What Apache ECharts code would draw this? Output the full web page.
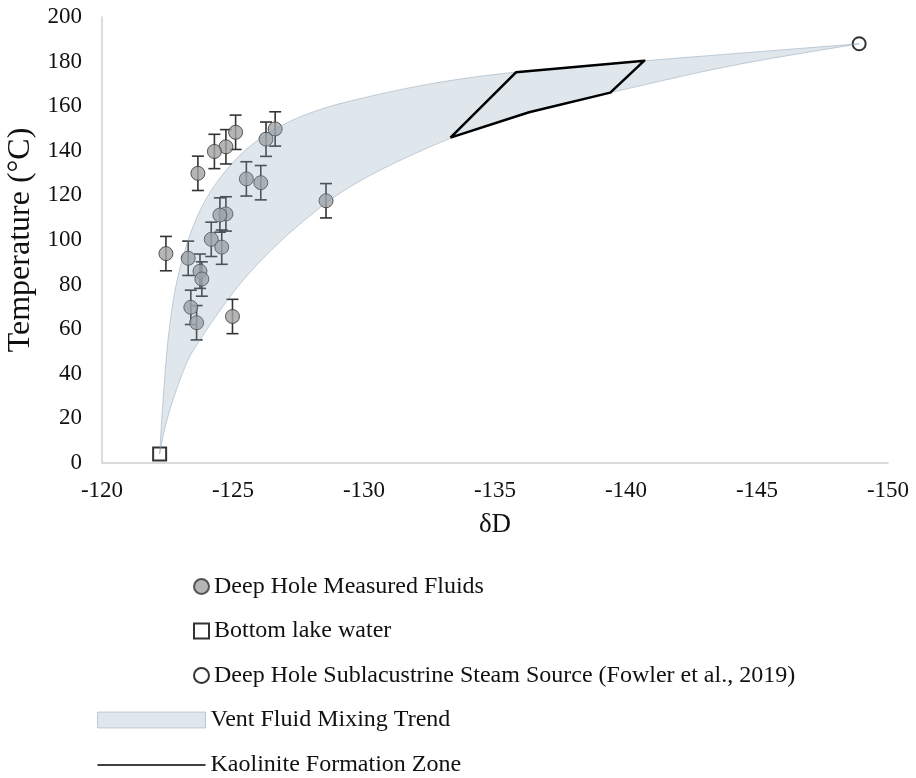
<!DOCTYPE html>
<html>
<head>
<meta charset="utf-8">
<script src="https://cdn.jsdelivr.net/npm/echarts@6/dist/echarts.min.js"></script>
<style>
  html, body { margin: 0; padding: 0; background: #ffffff; }
  #chart { width: 916px; height: 778px; }
</style>
</head>
<body>
<div id="chart"></div>
<script>
// Deep Hole measured vent fluids: δD (‰) and temperature (°C)
const fluidD = [-125.1, -124.73, -124.29, -123.66, -126.61, -126.26, -125.51, -126.06, -128.55, -124.73,
                -124.5, -124.17, -124.57, -122.44, -123.29, -123.74, -123.81, -123.39, -123.61, -124.98];
const fluidT = [148.3, 141.8, 139.7, 129.9, 149.8, 145.2, 127.4, 125.7, 117.6, 111.7,
                111.2, 100.3, 96.8, 93.9, 91.8, 86.0, 82.5, 69.8, 62.9, 65.7];
const fluidErr = 7.7;

// End members
const lakeD = [-122.2];
const lakeT = [4];
const steamD = [-148.9];
const steamT = [188];

// Vent fluid mixing trend envelope (upper and lower bounding curves)
const upperD = [-122.2, -122.33, -122.52, -122.79, -123.17, -123.66, -124.31, -125.27, -126.41, -127.75,
                -129.47, -132.52, -135.8, -140.65, -145.88, -148.9];
const upperT = [4, 28.3, 55.2, 77.6, 95.5, 111.2, 124.7, 138.1, 148.4, 156.1,
                162.3, 170.0, 175.3, 180.3, 185.2, 188];
const lowerD = [-122.2, -122.48, -123.09, -123.74, -125.46, -127.56, -129.85, -133.32, -136.34, -139.35,
                -143.97, -148.9];
const lowerT = [4, 19.3, 40.8, 55.2, 83.0, 107.2, 126.5, 145.7, 157.4, 165.9,
                178.0, 188];

// Kaolinite formation zone outline
const kaolD = [-133.3, -135.8, -140.7, -139.4, -136.3, -133.3];
const kaolT = [145.9, 175.2, 180.4, 166.1, 157.3, 145.9];

// Axis ticks
const xTicks = { min: -150, max: -120, step: 5 };
const yTicks = { min: 0, max: 200, step: 20 };

const FONT = '"Liberation Serif", "Times New Roman", serif';
const chart = echarts.init(document.getElementById('chart'), null, { renderer: 'canvas' });

const bandFill = 'rgba(140,165,185,0.28)';
const bandEdge = 'rgba(130,155,178,0.45)';

// Catmull-Rom spline through pixel points, emitted as cubic Bézier segments
function splineSegments(pts) {
  let d = '';
  for (let i = 0; i < pts.length - 1; i++) {
    const p0 = pts[Math.max(i - 1, 0)];
    const p1 = pts[i];
    const p2 = pts[i + 1];
    const p3 = pts[Math.min(i + 2, pts.length - 1)];
    const c1x = p1[0] + (p2[0] - p0[0]) / 6, c1y = p1[1] + (p2[1] - p0[1]) / 6;
    const c2x = p2[0] - (p3[0] - p1[0]) / 6, c2y = p2[1] - (p3[1] - p1[1]) / 6;
    d += ' C' + c1x + ',' + c1y + ' ' + c2x + ',' + c2y + ' ' + p2[0] + ',' + p2[1];
  }
  return d;
}

const option = {
  backgroundColor: '#ffffff',
  animation: false,
  grid: { left: 102, right: 28, top: 17, bottom: 315, containLabel: false, outerBoundsMode: 'none' },
  xAxis: {
    type: 'value',
    inverse: true,
    min: xTicks.min, max: xTicks.max, interval: xTicks.step,
    name: 'δD',
    nameLocation: 'middle',
    nameGap: 48,
    nameTextStyle: { fontFamily: FONT, fontSize: 27, color: '#111' },
    axisLine: { show: true, lineStyle: { color: '#d0d0d0', width: 1.5 } },
    axisTick: { show: false },
    splitLine: { show: false },
    axisLabel: { fontFamily: FONT, fontSize: 23, color: '#111', margin: 16 }
  },
  yAxis: {
    type: 'value',
    min: yTicks.min, max: yTicks.max, interval: yTicks.step,
    name: 'Temperature (°C)',
    nameLocation: 'middle',
    nameGap: 60,
    nameTextStyle: { fontFamily: FONT, fontSize: 32, color: '#111' },
    axisLine: { show: true, lineStyle: { color: '#d0d0d0', width: 1.5 } },
    axisTick: { show: false },
    splitLine: { show: false },
    axisLabel: { fontFamily: FONT, fontSize: 23, color: '#111', margin: 20 }
  },
  legend: [
    {
      orient: 'vertical',
      left: 193, top: 574.5,
      padding: 0,
      itemWidth: 15, itemHeight: 15,
      itemGap: 20.5,
      textStyle: { fontFamily: FONT, fontSize: 24, color: '#111', lineHeight: 24 },
      data: ['Deep Hole Measured Fluids', 'Bottom lake water',
             'Deep Hole Sublacustrine Steam Source (Fowler et al., 2019)']
    },
    {
      orient: 'vertical',
      left: 97, top: 708,
      padding: 0,
      itemWidth: 108, itemHeight: 16,
      itemGap: 21,
      symbolKeepAspect: true,
      textStyle: { fontFamily: FONT, fontSize: 24, color: '#111', lineHeight: 24 },
      data: [
        { name: 'Vent Fluid Mixing Trend', icon: 'rect',
          itemStyle: { color: bandFill, borderColor: bandEdge, borderWidth: 1 } },
        { name: 'Kaolinite Formation Zone', icon: 'path://M0,0L216,0L216,3L0,3Z',
          itemStyle: { color: '#000000', borderWidth: 0 } }
      ]
    }
  ],
  series: [
    {
      // vertical error bars with caps
      type: 'custom',
      name: 'err',
      z: 2,
      data: fluidD.map((d, i) => [d, fluidT[i] - fluidErr, fluidT[i] + fluidErr]),
      encode: { x: 0, y: [1, 2] },
      renderItem: function (params, api) {
        const lo = api.coord([api.value(0), api.value(1)]);
        const hi = api.coord([api.value(0), api.value(2)]);
        const hw = 6;
        const style = { stroke: '#333333', lineWidth: 1.6, fill: null };
        return {
          type: 'group',
          children: [
            { type: 'line', shape: { x1: lo[0], y1: lo[1], x2: hi[0], y2: hi[1] }, style: style },
            { type: 'line', shape: { x1: lo[0] - hw, y1: lo[1], x2: lo[0] + hw, y2: lo[1] }, style: style },
            { type: 'line', shape: { x1: hi[0] - hw, y1: hi[1], x2: hi[0] + hw, y2: hi[1] }, style: style }
          ]
        };
      },
      silent: true
    },
    {
      type: 'scatter',
      name: 'Deep Hole Measured Fluids',
      z: 3,
      symbol: 'circle',
      symbolSize: 14,
      itemStyle: { color: '#a3a3a3', borderColor: '#333333', borderWidth: 1 },
      data: fluidD.map((d, i) => [d, fluidT[i]])
    },
    {
      type: 'scatter',
      name: 'Bottom lake water',
      z: 3,
      symbol: 'rect',
      symbolSize: 13,
      itemStyle: { color: '#ffffff', borderColor: '#000000', borderWidth: 2 },
      data: lakeD.map((d, i) => [d, lakeT[i]])
    },
    {
      type: 'scatter',
      name: 'Deep Hole Sublacustrine Steam Source (Fowler et al., 2019)',
      z: 3,
      symbol: 'circle',
      symbolSize: 13,
      itemStyle: { color: '#ffffff', borderColor: '#000000', borderWidth: 2 },
      data: steamD.map((d, i) => [d, steamT[i]])
    },
    {
      // translucent mixing envelope laid over the samples
      type: 'custom',
      name: 'Vent Fluid Mixing Trend',
      z: 4,
      silent: true,
      itemStyle: { color: bandFill },
      data: [[-135, 100]],
      renderItem: function (params, api) {
        const up = upperD.map((d, i) => api.coord([d, upperT[i]]));
        const lo = lowerD.map((d, i) => api.coord([d, lowerT[i]])).reverse();
        const path = 'M' + up[0][0] + ',' + up[0][1] + splineSegments(up) + splineSegments(lo) + ' Z';
        return {
          type: 'path',
          shape: { pathData: path },
          style: { fill: bandFill, stroke: bandEdge, lineWidth: 1 }
        };
      }
    },
    {
      type: 'line',
      name: 'Kaolinite Formation Zone',
      z: 5,
      symbol: 'none',
      showSymbol: false,
      smooth: false,
      color: '#000000',
      lineStyle: { color: '#000000', width: 2.5, join: 'round' },
      data: kaolD.map((d, i) => [d, kaolT[i]])
    }
  ]
};

chart.setOption(option);
</script>
</body>
</html>
